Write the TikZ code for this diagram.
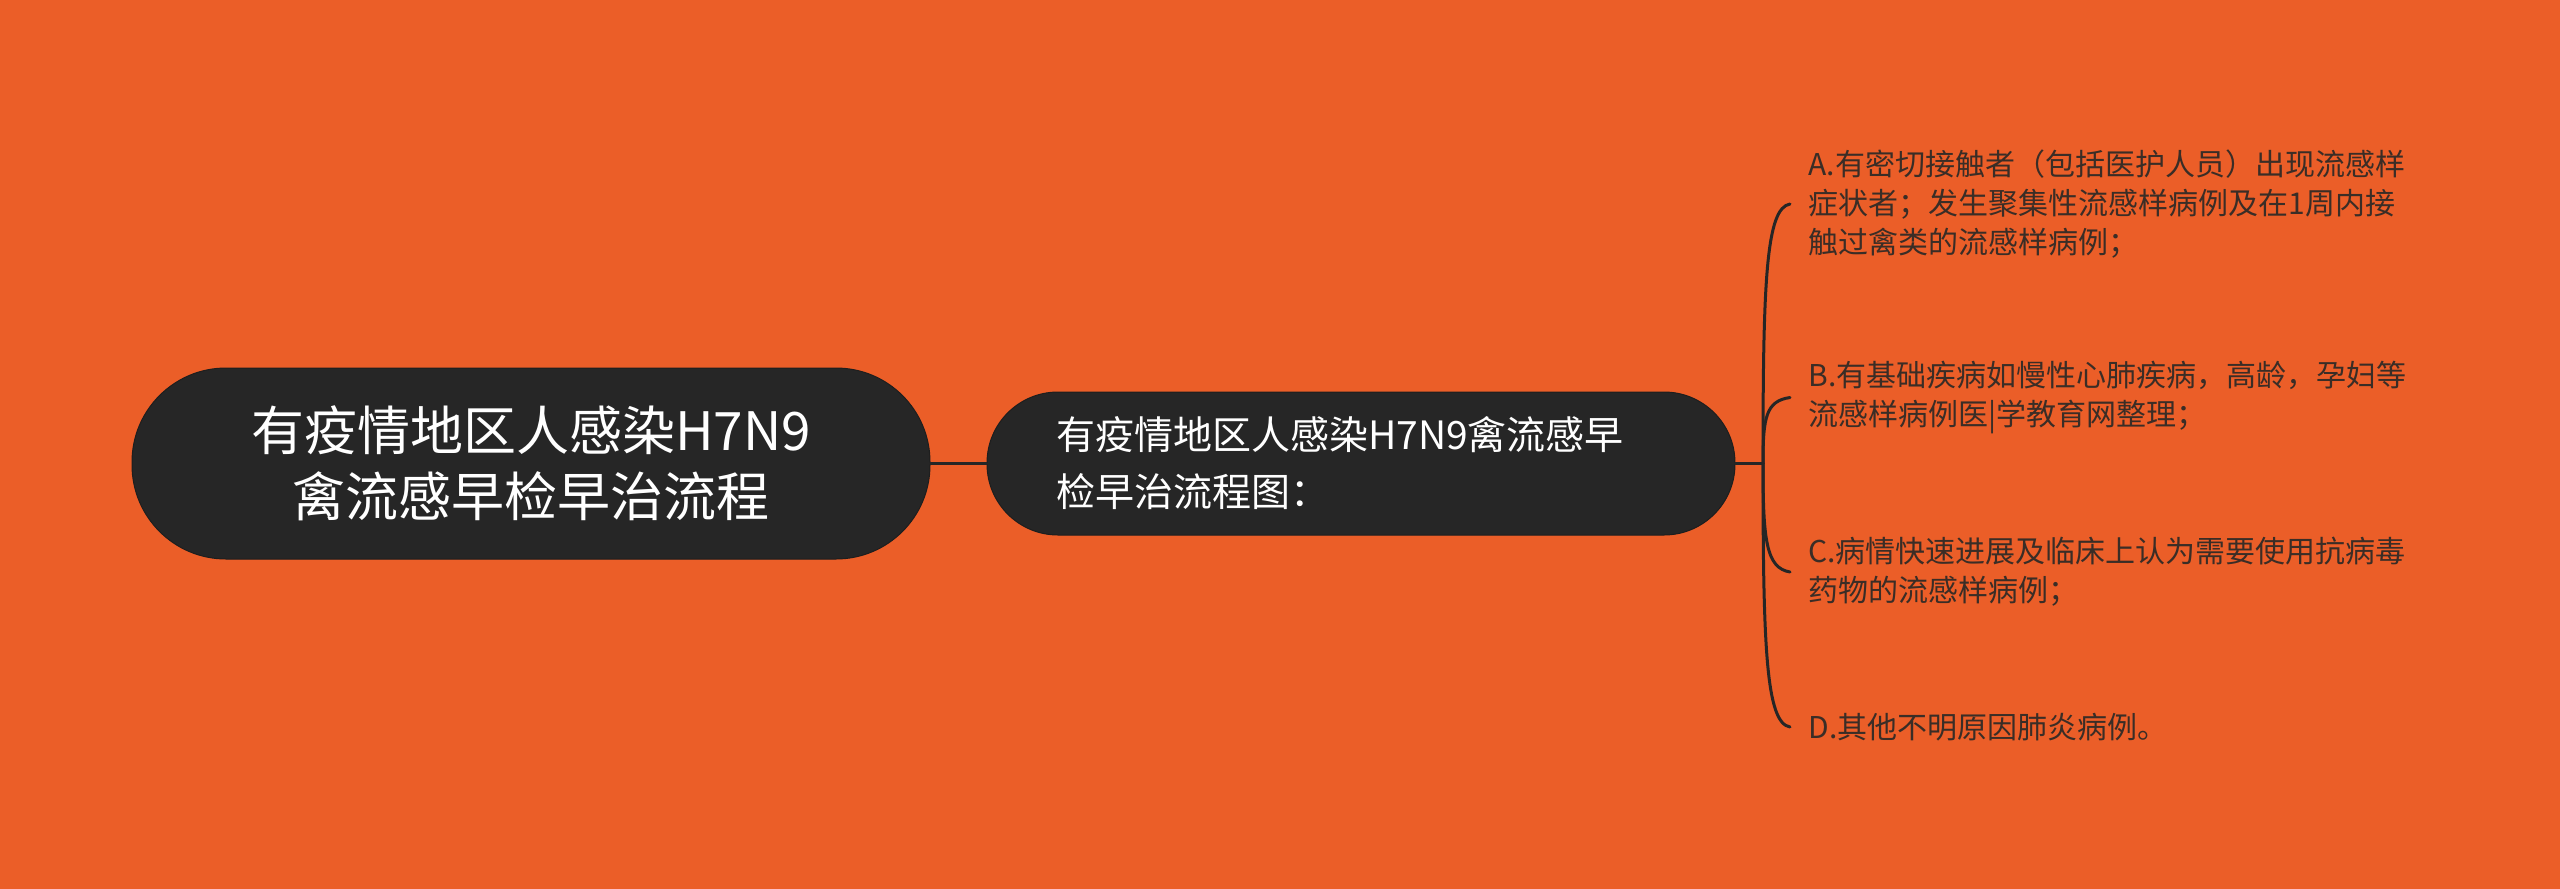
\documentclass[tikz,border=0pt]{standalone}
\usepackage{fontspec}
\setmainfont{Noto Sans CJK SC}
\definecolor{bg}{HTML}{EB5E28}
\definecolor{nodefill}{HTML}{262626}
\definecolor{nodeline}{HTML}{1E1E1E}
\definecolor{leaftext}{HTML}{3A2D26}
\begin{document}
\begin{tikzpicture}[x=0.5pt,y=-0.5pt,
  pill/.style={fill=nodefill,draw=nodeline,line width=0.5pt,text=white,align=center,inner sep=0pt},
  leaf/.style={anchor=west,align=left,text=leaftext,inner xsep=9pt,inner ysep=0pt,
    font=\fontsize{15pt}{19.5pt}\selectfont},
  conn/.style={draw=nodefill,line width=1.5pt,line cap=round}]
\fill[bg] (0,0) rectangle (2560,889);
\useasboundingbox (0,0) rectangle (2560,889);

\node[pill,minimum width=399pt,minimum height=95.5pt,rounded corners=47pt,
  font=\fontsize{26.5pt}{33pt}\selectfont] (root) at (531,463.5)
  {有疫情地区人感染H7N9\\禽流感早检早治流程};

\node[pill,minimum width=374pt,minimum height=71.5pt,rounded corners=35.5pt,
  text width=305pt,align=left,
  font=\fontsize{19.5pt}{28.5pt}\selectfont] (mid) at (1361,463.5)
  {有疫情地区人感染H7N9禽流感早\\检早治流程图：};

\node[leaf] (A) at (1790,204)
  {A.有密切接触者（包括医护人员）出现流感样\\症状者；发生聚集性流感样病例及在1周内接\\触过禽类的流感样病例；};
\node[leaf] (B) at (1790,397.5)
  {B.有基础疾病如慢性心肺疾病，高龄，孕妇等\\流感样病例医|学教育网整理；};
\node[leaf] (C) at (1790,572)
  {C.病情快速进展及临床上认为需要使用抗病毒\\药物的流感样病例；};
\node[leaf] (D) at (1790,727)
  {D.其他不明原因肺炎病例。};

\coordinate (J) at (1763,463.5);
\draw[conn] (root.east) -- (mid.west);
\draw[conn] (mid.east) -- (J);
\draw[conn] (J) .. controls (1763,281) and (1766,208) .. (A.west);
\draw[conn] (J) .. controls (1763,417) and (1766,401) .. (B.west);
\draw[conn] (J) .. controls (1763,540) and (1766,568) .. (C.west);
\draw[conn] (J) .. controls (1763,648) and (1766,723) .. (D.west);
\end{tikzpicture}
\end{document}
